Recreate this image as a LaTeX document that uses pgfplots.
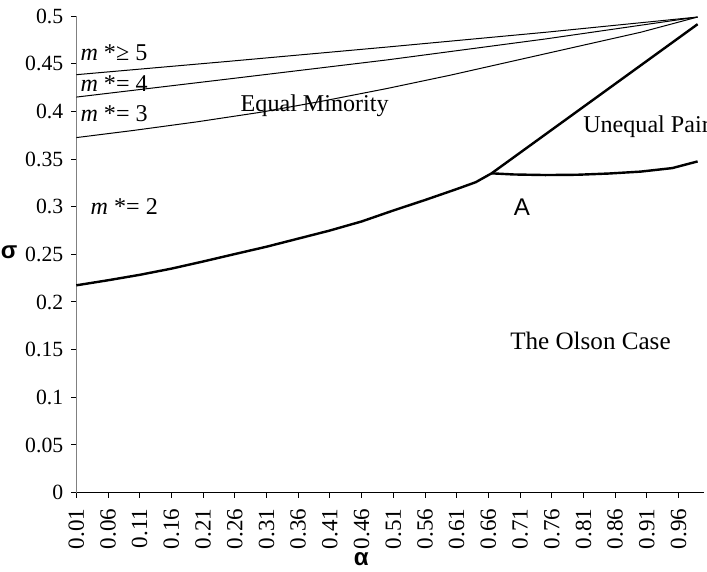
\documentclass[border=0pt]{standalone}
\usepackage{fontspec}
\setmainfont{Liberation Serif}
\newfontfamily\arial{Liberation Sans}
\usepackage{pgfplots}
\pgfplotsset{compat=1.18}
\begin{document}
\begin{tikzpicture}
\begin{axis}[
  scale only axis,
  width=312.5pt, height=237.25pt,
  xmin=0.01, xmax=1.0, ymin=0, ymax=0.5,
  axis lines*=left,
  axis line style={-},
  x axis line style={black, line width=0.6pt},
  y axis line style={gray, line width=0.6pt},
  tick align=outside,
  major tick length=2.5pt,
  tick style={black, line width=0.5pt},
  xtick={0.01,0.06,0.11,0.16,0.21,0.26,0.31,0.36,0.41,0.46,0.51,0.56,0.61,0.66,0.71,0.76,0.81,0.86,0.91,0.96},
  xticklabels={0.01,0.06,0.11,0.16,0.21,0.26,0.31,0.36,0.41,0.46,0.51,0.56,0.61,0.66,0.71,0.76,0.81,0.86,0.91,0.96},
  ytick={0,0.05,0.1,0.15,0.2,0.25,0.3,0.35,0.4,0.45,0.5},
  yticklabels={0,0.05,0.1,0.15,0.2,0.25,0.3,0.35,0.4,0.45,0.5},
  x tick label style={rotate=90, anchor=east, font=\fontsize{11.5}{13}\selectfont, xshift=-2pt},
  y tick label style={font=\fontsize{10.8}{13}\selectfont, xshift=-0.5pt},
  /pgf/number format/assume math mode=true,
  clip=false,
]
% m* >= 5
\addplot[black, line width=0.5pt] coordinates {(0.01,0.4385) (0.25,0.4525) (0.50,0.4675) (0.75,0.4830) (0.99,0.4990)};
% m* = 4
\addplot[black, line width=0.5pt] coordinates {(0.01,0.4150) (0.25,0.4340) (0.50,0.4540) (0.75,0.4760) (0.99,0.4990)};
% m* = 3
\addplot[black, line width=0.5pt] coordinates {(0.01,0.3725) (0.10,0.3800) (0.20,0.3890) (0.30,0.3990) (0.40,0.4110) (0.50,0.4240) (0.60,0.4380) (0.70,0.4530) (0.80,0.4680) (0.90,0.4830) (0.99,0.4990)};
% main boundary
\addplot[black, line width=1.2pt, line join=round] coordinates {(0.01,0.2175) (0.06,0.2228) (0.11,0.2285) (0.16,0.2350) (0.21,0.2425) (0.26,0.2503) (0.31,0.2580) (0.36,0.2665) (0.41,0.2750) (0.46,0.2845) (0.51,0.2960) (0.56,0.3070) (0.61,0.3185) (0.64,0.3257) (0.665,0.3350) (0.99,0.4915)};
% branch
\addplot[black, line width=1.2pt, line join=round] coordinates {(0.665,0.3350) (0.70,0.3338) (0.75,0.3332) (0.80,0.3335) (0.85,0.3348) (0.90,0.3368) (0.95,0.3405) (0.99,0.3475)};
\node[anchor=west, font=\fontsize{12}{13}\selectfont, inner sep=0pt] at (axis cs:0.016,0.4615) {\textit{m} *≥ 5};
\node[anchor=west, font=\fontsize{12}{13}\selectfont, inner sep=0pt] at (axis cs:0.016,0.4297) {\textit{m} *= 4};
\node[anchor=west, font=\fontsize{12}{13}\selectfont, inner sep=0pt] at (axis cs:0.016,0.398) {\textit{m} *= 3};
\node[anchor=west, font=\fontsize{12}{13}\selectfont, inner sep=0pt] at (axis cs:0.032,0.300) {\textit{m} *= 2};
\node[font=\fontsize{12}{13}\selectfont, inner sep=0pt] at (axis cs:0.386,0.406) {Equal Minority};
\node[anchor=west, font=\fontsize{12}{13}\selectfont, inner sep=0pt] at (axis cs:0.809,0.3838) {Unequal Pair};
\node[font=\arial\fontsize{12}{13}\selectfont, inner sep=0pt] at (axis cs:0.713,0.2994) {A};
\node[font=\fontsize{12.5}{13}\selectfont, inner sep=0pt] at (axis cs:0.821,0.1588) {The Olson Case};
\node[font=\arial\bfseries\fontsize{12}{13}\selectfont, inner sep=0pt] at (axis description cs:-0.107,0.5054) {σ};
\node[font=\arial\bfseries\fontsize{12}{13}\selectfont, inner sep=0pt] at (axis description cs:0.454,-0.1395) {α};
\end{axis}
\pgfresetboundingbox
\path (-38pt,-39.25pt) rectangle (314pt,245.25pt);
\end{tikzpicture}
\end{document}
